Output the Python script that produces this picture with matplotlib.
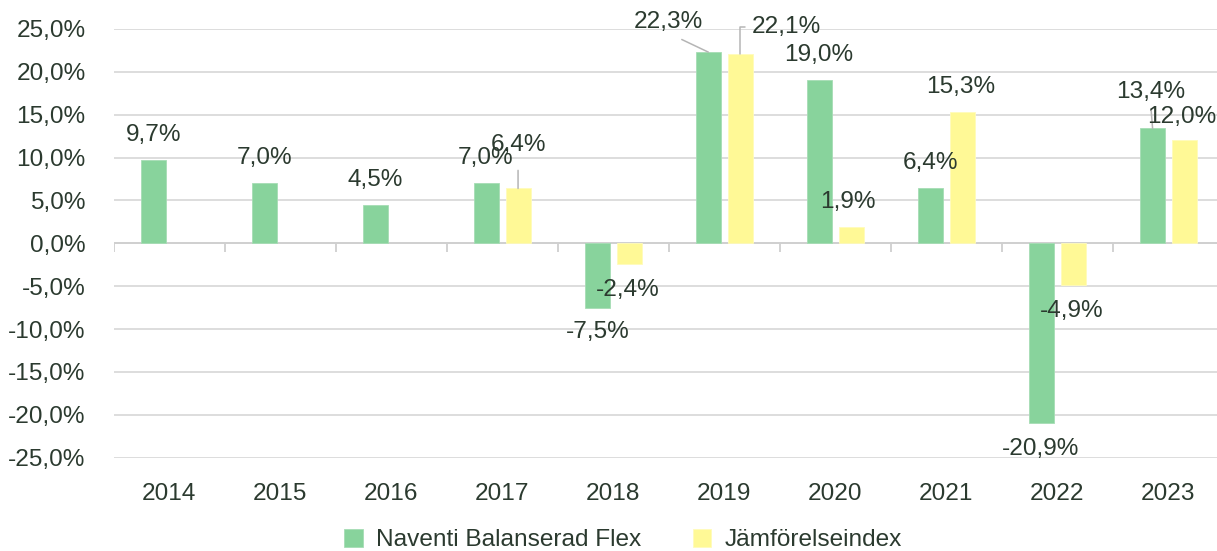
import matplotlib
matplotlib.use("Agg")
import matplotlib.pyplot as plt
import numpy as np

years = ["2014", "2015", "2016", "2017", "2018", "2019", "2020", "2021", "2022", "2023"]
naventi = [9.7, 7.0, 4.5, 7.0, -7.5, 22.3, 19.0, 6.4, -20.9, 13.4]
index_vals = [None, None, None, 6.4, -2.4, 22.1, 1.9, 15.3, -4.9, 12.0]
series_names = ["Naventi Balanserad Flex", "Jämförelseindex"]
yticks = [-25, -20, -15, -10, -5, 0, 5, 10, 15, 20, 25]

GREEN = "#88d39c"
YELLOW = "#fff996"
TEXT = "#2b3a2f"
GRID = "#dadada"

plt.rcParams['font.family'] = ['Liberation Sans', 'DejaVu Sans']
FS = 17.6

W, H = 1217, 551
fig = plt.figure(figsize=(W / 100, H / 100), dpi=100)
ax = fig.add_axes([113.5 / W, 93.3 / H, 1110.5 / W, 428.7 / H])

x = np.arange(len(years))
bw = 0.225
off = 0.143

g_x = x - off
y_x = x + off
ax.bar(g_x, naventi, width=bw, color=GREEN, edgecolor="#a6ddb4", linewidth=0.6,
       label=series_names[0], zorder=3)
yi = [i for i, v in enumerate(index_vals) if v is not None]
ax.bar(y_x[yi], [index_vals[i] for i in yi], width=bw, color=YELLOW,
       edgecolor="#fffbbb", linewidth=0.6, label=series_names[1], zorder=3)

ax.set_xlim(-0.5, len(years) - 0.5)
ax.set_ylim(-25, 25)
ax.set_yticks(yticks)
ax.set_yticklabels([f"{v:.1f}".replace('.', ',') + "%" for v in yticks])
ax.set_xticks(x)
ax.set_xticklabels(years)
ax.tick_params(axis='y', length=0, pad=20, labelsize=FS, labelcolor=TEXT)
ax.tick_params(axis='x', length=0, pad=18, labelsize=FS, labelcolor=TEXT)
for s in ax.spines.values():
    s.set_visible(False)
ax.grid(axis='y', color=GRID, linewidth=1.3, zorder=0)
ax.set_axisbelow(True)

# zero line with category boundary ticks
ax.axhline(0, color="#cfcfcf", linewidth=1.3, zorder=2)
bounds = np.arange(len(years) + 1) - 0.5
ax.vlines(bounds, -1.05, 0, colors="#cfcfcf", linewidth=1.3, zorder=2)

def fmt(v):
    return f"{v:.1f}".replace('.', ',') + "%"

# label offsets in pixels (dx, dy) from bar end
default_pos = (0, 25)
default_neg = (0, -26)
g_off = {5: (-40, 30), 6: (-1, 25), 8: (-1, -26), 3: (-1, 25), 4: (0, -24)}
y_off = {3: (0, 43), 4: (-1.5, -26), 5: (46.5, 27), 6: (-3, 25), 7: (-2, 25),
         8: (-1.5, -26), 9: (-3, 23)}

leader = dict(arrowstyle='-', color="#b5b5b5", lw=1.1)

for i, v in enumerate(naventi):
    dx, dy = g_off.get(i, default_pos if v >= 0 else default_neg)
    kw = {}
    if i == 5:
        kw['arrowprops'] = dict(leader, relpos=(0.5, 0.0), shrinkA=6, shrinkB=0)
    if i == 9:
        dx, dy = (-2, 36)
        kw['arrowprops'] = dict(leader, relpos=(0.5, 0.0), shrinkA=2, shrinkB=0)
    ax.annotate(fmt(v), xy=(g_x[i], v), xytext=(dx, dy), textcoords='offset pixels',
                ha='center', va='center', fontsize=FS, color=TEXT, zorder=5, **kw)

for i in yi:
    v = index_vals[i]
    dx, dy = y_off.get(i, default_pos if v >= 0 else default_neg)
    kw = {}
    if i == 3:
        kw['arrowprops'] = dict(leader, relpos=(0.5, 0.0), shrinkA=8, shrinkB=0)
    if i == 5:
        kw['arrowprops'] = dict(leader, relpos=(0.0, 0.5), shrinkA=3, shrinkB=0,
                                connectionstyle='angle,angleA=0,angleB=90,rad=0')
    ax.annotate(fmt(v), xy=(y_x[i], v), xytext=(dx, dy), textcoords='offset pixels',
                ha='center', va='center', fontsize=FS, color=TEXT, zorder=5, **kw)

leg = fig.legend(loc='center', bbox_to_anchor=(623 / W, (H - 540) / H), ncol=2,
                 frameon=False, fontsize=FS, handlelength=0.75, handleheight=0.75,
                 handletextpad=0.55, columnspacing=2.1)
for t in leg.get_texts():
    t.set_color(TEXT)

fig.savefig("out.png", dpi=100)
